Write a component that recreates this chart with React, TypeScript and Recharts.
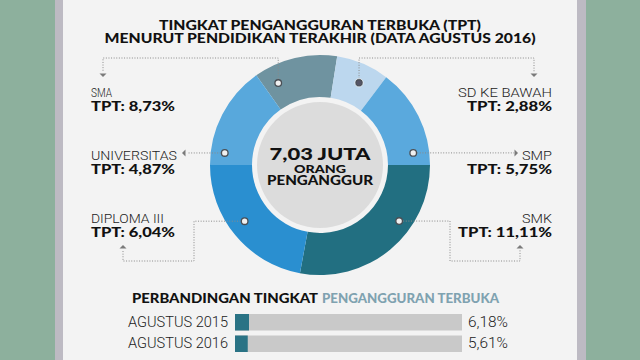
import React from 'react';
import { PieChart, Pie, Cell, BarChart, Bar, XAxis, YAxis } from 'recharts';

// ---- Data ----
const segments = ['SMA', 'SD KE BAWAH', 'SMP', 'SMK', 'DIPLOMA III', 'UNIVERSITAS'];
const segmentShares = [44.4, 28, 53, 100.5, 79.5, 54.6];
const segmentColors = ['#6f93a0', '#bcd7ee', '#5aa9dd', '#226f81', '#2a8fd0', '#58a8dc'];
const tptLabels = ['TPT: 8,73%', 'TPT: 2,88%', 'TPT: 5,75%', 'TPT: 11,11%', 'TPT: 6,04%', 'TPT: 4,87%'];

const periods = ['AGUSTUS 2015', 'AGUSTUS 2016'];
const rates = [6.18, 5.61];
const rateLabels = ['6,18%', '5,61%'];

const pieData = segments.map((name, i) => ({ name, value: segmentShares[i] }));
const barData = periods.map((name, i) => ({ name, value: rates[i], label: rateLabels[i] }));

const W = 640;
const H = 360;
const CX = 320;
const CY = 165;
const FONT = "Roboto, 'Liberation Sans', Arial, sans-serif";
const HEAVY = "Lato, Roboto, 'Liberation Sans', Arial, sans-serif";

const polar = (deg: number, r: number) => {
  const a = (deg * Math.PI) / 180;
  return { x: CX + r * Math.sin(a), y: CY - r * Math.cos(a) };
};

type Ann = {
  idx: number;
  angle: number;
  r: number;
  anchor: 'start' | 'end';
  x: number;
  y1: number;
  y2: number;
  w1: number;
  w2: number;
  route: (d: { x: number; y: number }) => number[][];
  arrow: { x: number; y: number; dir: 'down' | 'left' | 'right' | 'up' };
  filled?: boolean;
};

const anns: Ann[] = [
  {
    idx: 0, angle: -27, r: 92, anchor: 'start', x: 91, y1: 97, y2: 111, w1: 21, w2: 84,
    route: (d) => [[d.x, d.y - 4], [d.x, 58], [103, 58], [103, 72]],
    arrow: { x: 103, y: 77, dir: 'down' },
  },
  {
    idx: 1, angle: 25.4, r: 91, anchor: 'end', x: 552, y1: 97, y2: 111, w1: 94, w2: 85,
    route: (d) => [[d.x, d.y - 4], [d.x, 58], [534, 58], [534, 72]],
    arrow: { x: 534, y: 77, dir: 'down' }, filled: true,
  },
  {
    idx: 2, angle: 82.6, r: 94, anchor: 'end', x: 552, y1: 160, y2: 174, w1: 30, w2: 85,
    route: (d) => [[d.x + 4, d.y], [514, d.y]],
    arrow: { x: 518, y: 153, dir: 'right' },
  },
  {
    idx: 3, angle: 125.3, r: 97, anchor: 'end', x: 552, y1: 223, y2: 237, w1: 30, w2: 94,
    route: (d) => [[d.x + 4, d.y], [450, d.y], [450, 261], [520, 261], [520, 250]],
    arrow: { x: 520, y: 245, dir: 'up' },
  },
  {
    idx: 4, angle: -126.7, r: 94, anchor: 'start', x: 91, y1: 223, y2: 237, w1: 73, w2: 84,
    route: (d) => [[d.x - 4, d.y], [194, d.y], [194, 261], [123, 261], [123, 250]],
    arrow: { x: 123, y: 245, dir: 'up' },
  },
  {
    idx: 5, angle: -82.8, r: 96, anchor: 'start', x: 91, y1: 160, y2: 174, w1: 86, w2: 84,
    route: (d) => [[d.x - 4, d.y], [187, d.y]],
    arrow: { x: 182, y: 153, dir: 'left' },
  },
];

const arrowPath = (a: { x: number; y: number; dir: string }) => {
  const s = 3.5;
  switch (a.dir) {
    case 'down':
      return `M${a.x - s},${a.y - s} L${a.x + s},${a.y - s} L${a.x},${a.y} Z`;
    case 'up':
      return `M${a.x - s},${a.y + s} L${a.x + s},${a.y + s} L${a.x},${a.y} Z`;
    case 'left':
      return `M${a.x + s},${a.y - s} L${a.x + s},${a.y + s} L${a.x},${a.y} Z`;
    default:
      return `M${a.x - s},${a.y - s} L${a.x - s},${a.y + s} L${a.x},${a.y} Z`;
  }
};

const LeftTick = (props: any) => {
  const { x, y, payload } = props;
  return (
    <text x={x} y={y + 5} textAnchor="end" fontFamily={FONT} fontWeight={300} fontSize={14} fill="#222"
      textLength={100} lengthAdjust="spacingAndGlyphs">
      {payload.value}
    </text>
  );
};

const RightTick = (props: any) => {
  const { x, y, payload } = props;
  const row = barData.find((d) => d.name === payload.value);
  return (
    <text x={x + 46} y={y + 5} textAnchor="end" fontFamily={FONT} fontWeight={300} fontSize={14} fill="#222"
      textLength={40} lengthAdjust="spacingAndGlyphs">
      {row ? row.label : ''}
    </text>
  );
};

export default function App() {
  return (
    <div style={{ position: 'absolute', left: 0, top: 0, width: W, height: H, overflow: 'hidden', background: '#8db09d' }}>
      <div style={{ position: 'absolute', left: 55, top: 0, width: 531, height: H, background: '#bdbac3' }} />
      <div style={{ position: 'absolute', left: 63, top: 0, width: 514, height: H, background: '#f3f3f3' }} />

      <div style={{ position: 'absolute', left: 0, top: 0 }}>
        <PieChart width={W} height={H} margin={{ top: 0, right: 0, bottom: 0, left: 0 }}>
          <Pie
            data={pieData}
            dataKey="value"
            nameKey="name"
            cx={CX}
            cy={CY}
            innerRadius={68}
            outerRadius={110}
            startAngle={125.4}
            endAngle={-234.6}
            stroke="none"
            isAnimationActive={false}
          >
            {pieData.map((d, i) => (
              <Cell key={d.name} fill={segmentColors[i]} />
            ))}
          </Pie>
        </PieChart>
      </div>

      <div style={{ position: 'absolute', left: 0, top: 0 }}>
        <BarChart
          width={W}
          height={H}
          data={barData}
          layout="vertical"
          margin={{ top: 311, right: 132, bottom: 6, left: 120 }}
          barSize={16.5}
        >
          <XAxis type="number" domain={[0, 100]} hide />
          <YAxis yAxisId="l" type="category" dataKey="name" width={115} axisLine={false} tickLine={false}
            tickSize={5} tickMargin={2} interval={0} tick={<LeftTick />} />
          <YAxis yAxisId="r" orientation="right" type="category" dataKey="name" width={46} axisLine={false}
            tickLine={false} tickSize={0} tickMargin={0} interval={0} tick={<RightTick />} />
          <Bar yAxisId="l" dataKey="value" fill="#2a7385" background={{ fill: '#c9c9c9' }} isAnimationActive={false} />
        </BarChart>
      </div>

      <svg width={W} height={H} style={{ position: 'absolute', left: 0, top: 0, pointerEvents: 'none' }}>
        <text x={320} y={30} textAnchor="middle" fontFamily={HEAVY} fontWeight={900} fontSize={13.5} fill="#111"
          textLength={322} lengthAdjust="spacingAndGlyphs">TINGKAT PENGANGGURAN TERBUKA (TPT)</text>
        <text x={320} y={43} textAnchor="middle" fontFamily={HEAVY} fontWeight={900} fontSize={13.5} fill="#111"
          textLength={431} lengthAdjust="spacingAndGlyphs">MENURUT PENDIDIKAN TERAKHIR (DATA AGUSTUS 2016)</text>

        <circle cx={CX} cy={CY} r={63} fill="#dcdcdc" />
        <text x={CX} y={160} textAnchor="middle" fontFamily={HEAVY} fontWeight={900} fontSize={17.5} fill="#111"
          textLength={101} lengthAdjust="spacingAndGlyphs">7,03 JUTA</text>
        <text x={CX} y={172.5} textAnchor="middle" fontFamily={HEAVY} fontWeight={900} fontSize={11.5} fill="#111"
          textLength={52} lengthAdjust="spacingAndGlyphs">ORANG</text>
        <text x={CX} y={185} textAnchor="middle" fontFamily={HEAVY} fontWeight={900} fontSize={12.5} fill="#111"
          textLength={106} lengthAdjust="spacingAndGlyphs">PENGANGGUR</text>

        {anns.map((a) => {
          const d = polar(a.angle, a.r);
          const pts = a.route(d);
          return (
            <g key={a.idx}>
              <polyline points={pts.map((p) => p.join(',')).join(' ')} fill="none" stroke="#8a8a8a"
                strokeWidth={1} strokeDasharray="1 1.6" />
              <path d={arrowPath(a.arrow)} fill="#7a7a7a" />
              <circle cx={d.x} cy={d.y} r={3.3} fill={a.filled ? '#556' : '#f0f0f0'} stroke="#4a4f55" strokeWidth={1.3} />
              {a.filled ? <circle cx={d.x} cy={d.y} r={4.2} fill="none" stroke="#e8eef3" strokeWidth={0.8} /> : null}
              <text x={a.x} y={a.y1} textAnchor={a.anchor} fontFamily={FONT} fontWeight={300} fontSize={13.5} fill="#222"
                textLength={a.w1} lengthAdjust="spacingAndGlyphs">{segments[a.idx]}</text>
              <text x={a.x} y={a.y2} textAnchor={a.anchor} fontFamily={HEAVY} fontWeight={900} fontSize={13.5} fill="#111"
                textLength={a.w2} lengthAdjust="spacingAndGlyphs">{tptLabels[a.idx]}</text>
            </g>
          );
        })}

        <text x={132} y={303} fontFamily={HEAVY} fontWeight={900} fontSize={13} fill="#111"
          textLength={186} lengthAdjust="spacingAndGlyphs">PERBANDINGAN TINGKAT</text>
        <text x={322} y={303} fontFamily={HEAVY} fontWeight={900} fontSize={13} fill="#7fa2b0"
          textLength={177} lengthAdjust="spacingAndGlyphs">PENGANGGURAN TERBUKA</text>
      </svg>
    </div>
  );
}
